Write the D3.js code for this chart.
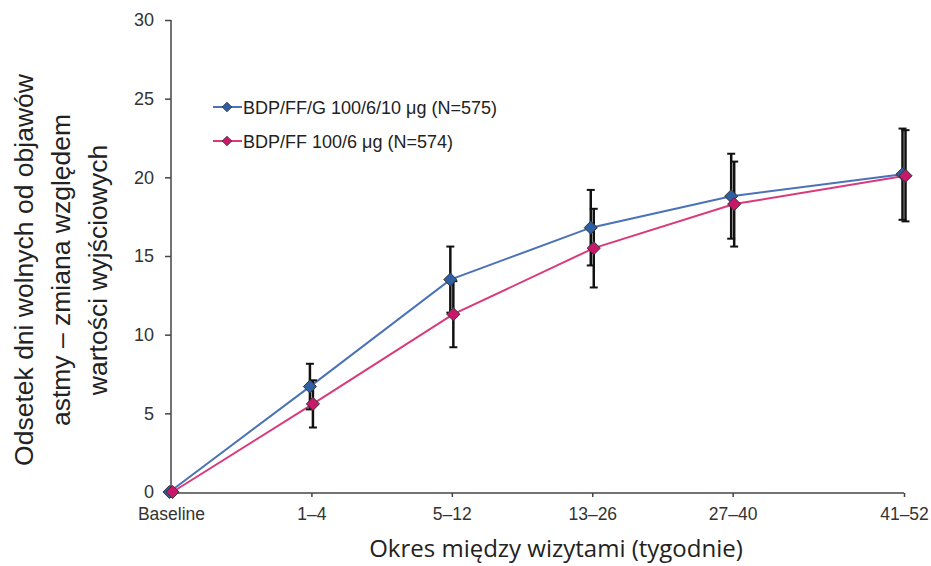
<!DOCTYPE html>
<html>
<head>
<meta charset="utf-8">
<script src="https://cdn.jsdelivr.net/npm/d3@7"></script>
<style>
  body { margin: 0; background: #fff; }
  svg { display: block; }
</style>
</head>
<body>
<div class="chart"></div>
<script>
// visit periods on the x-axis
const periods = ["Baseline", "1–4", "5–12", "13–26", "27–40", "41–52"];
// slot of each period along the axis (the last one sits a bit further out)
const periodSlots = [0, 1, 2, 3, 4, 5.22];

// change from baseline in % of symptom-free days
const tripleMean = [0, 6.7, 13.5, 16.8, 18.8, 20.2];
const tripleErr = [0, 1.45, 2.1, 2.4, 2.7, 2.9];
const dualMean = [0, 5.6, 11.3, 15.5, 18.3, 20.1];
const dualErr = [0, 1.5, 2.1, 2.5, 2.7, 2.9];

const seriesNames = ["BDP/FF/G 100/6/10 μg (N=575)", "BDP/FF 100/6 μg (N=574)"];
const yTicks = [0, 5, 10, 15, 20, 25, 30];

const width = 931;
const height = 566;

const svg = d3.select(".chart")
  .append("svg")
  .attr("width", width)
  .attr("height", height);

// scales
const xScale = d3.scaleLinear()
  .domain([0, 5.22])
  .range([171, 904]);

const yScale = d3.scaleLinear()
  .domain([0, 30])
  .range([492, 20]);

// y axis
const yAxis = d3.axisLeft(yScale)
  .tickValues(yTicks)
  .tickSize(6)
  .tickPadding(11);

const gy = svg.append("g")
  .attr("transform", "translate(171,0)")
  .call(yAxis);
gy.select(".domain").attr("stroke", "#444").attr("stroke-width", 1.5).attr("d", "M0,20V492");
gy.selectAll(".tick line").attr("stroke", "#444").attr("stroke-width", 1.5);
gy.selectAll(".tick text")
  .attr("fill", "#333")
  .style("font-family", "Liberation Sans, Arial, sans-serif")
  .style("font-size", "18px");

// x axis
const xAxis = d3.axisBottom(xScale)
  .tickValues(periodSlots)
  .tickFormat((d, i) => periods[i])
  .tickSize(4)
  .tickPadding(11);

const gx = svg.append("g")
  .attr("transform", "translate(0,493)")
  .call(xAxis);
gx.select(".domain").attr("stroke", "#444").attr("stroke-width", 1.5).attr("d", "M171,0H904");
gx.selectAll(".tick line").attr("stroke", "#444").attr("stroke-width", 1.5);
gx.selectAll(".tick text")
  .attr("fill", "#333")
  .style("font-family", "Liberation Sans, Arial, sans-serif")
  .style("font-size", "17.5px");

// axis titles
svg.append("text")
  .attr("x", 556)
  .attr("y", 557)
  .attr("text-anchor", "middle")
  .attr("fill", "#222")
  .style("font-family", "Open Sans, sans-serif")
  .style("font-size", "24px")
  .text("Okres między wizytami (tygodnie)");

const yTitle = ["Odsetek dni wolnych od objawów", "astmy – zmiana względem", "wartości wyjściowych"];
svg.append("g")
  .attr("transform", "translate(33,270) rotate(-90)")
  .selectAll("text")
  .data(yTitle)
  .enter()
  .append("text")
  .attr("x", 0)
  .attr("y", (d, i) => i * 37)
  .attr("text-anchor", "middle")
  .attr("fill", "#222")
  .style("font-family", "Liberation Sans, Arial, sans-serif")
  .style("font-size", "26.5px")
  .text((d) => d);

const series = [
  { name: seriesNames[0], mean: tripleMean, err: tripleErr, line: "#4a72b8", fill: "#2f5fa3", shift: -1.5 },
  { name: seriesNames[1], mean: dualMean, err: dualErr, line: "#d93a7a", fill: "#c8186a", shift: 1.5 }
];

const diamond = d3.symbol().type(d3.symbolDiamond2).size(110);

// lines
series.forEach((s) => {
  const line = d3.line()
    .x((d, i) => xScale(periodSlots[i]) + s.shift)
    .y((d) => yScale(d));
  svg.append("path")
    .datum(s.mean)
    .attr("fill", "none")
    .attr("stroke", s.line)
    .attr("stroke-width", 2)
    .attr("d", line);
});

// error bars
series.forEach((s) => {
  const g = svg.append("g").attr("stroke", "#111").attr("stroke-width", 2.5);
  s.mean.forEach((m, i) => {
    if (s.err[i] === 0) return;
    const x = xScale(periodSlots[i]) + s.shift;
    const y1 = yScale(m + s.err[i]);
    const y2 = yScale(m - s.err[i]);
    g.append("line").attr("x1", x).attr("x2", x).attr("y1", y1).attr("y2", y2);
    g.append("line").attr("x1", x - 4).attr("x2", x + 4).attr("y1", y1).attr("y2", y1).attr("stroke-width", 2);
    g.append("line").attr("x1", x - 4).attr("x2", x + 4).attr("y1", y2).attr("y2", y2).attr("stroke-width", 2);
  });
});

// markers
series.forEach((s) => {
  svg.append("g")
    .selectAll("path")
    .data(s.mean)
    .enter()
    .append("path")
    .attr("d", diamond)
    .attr("transform", (d, i) => `translate(${xScale(periodSlots[i]) + s.shift},${yScale(d)})`)
    .attr("fill", s.fill)
    .attr("stroke", "#333")
    .attr("stroke-width", 1);
});

// legend
const legend = svg.append("g").attr("transform", "translate(213,107)");
series.forEach((s, i) => {
  const row = legend.append("g").attr("transform", `translate(0,${i * 34})`);
  row.append("line")
    .attr("x1", 0).attr("x2", 29)
    .attr("y1", 0).attr("y2", 0)
    .attr("stroke", s.line)
    .attr("stroke-width", 2);
  row.append("path")
    .attr("d", d3.symbol().type(d3.symbolDiamond2).size(60))
    .attr("transform", "translate(14,0)")
    .attr("fill", s.fill)
    .attr("stroke", "#333")
    .attr("stroke-width", 0.8);
  row.append("text")
    .attr("x", 30)
    .attr("y", 6.5)
    .attr("fill", "#222")
    .style("font-family", "Liberation Sans, Arial, sans-serif")
    .style("font-size", "18px")
    .text(s.name);
});
</script>
</body>
</html>
